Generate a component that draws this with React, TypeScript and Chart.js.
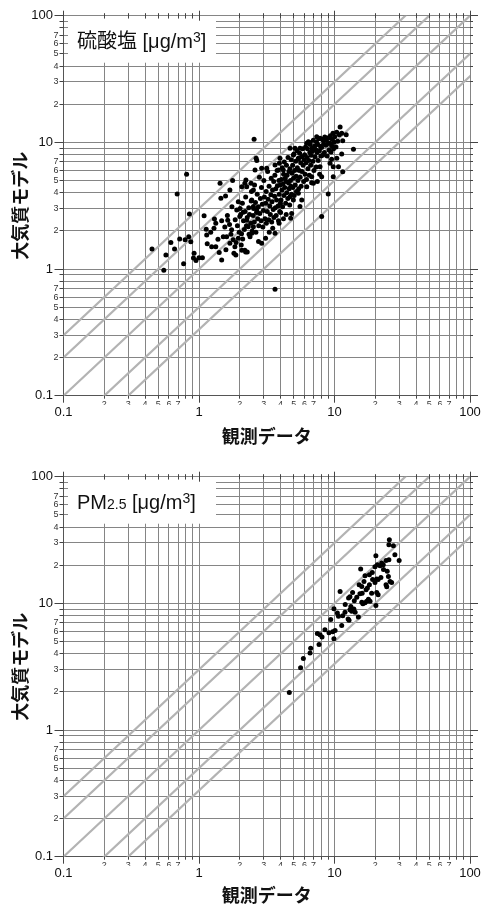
import React, { useEffect, useRef } from 'react';
import { Chart, registerables } from 'chart.js';

Chart.register(...registerables);

const LATIN = '"Liberation Sans", Arial, sans-serif';
const CJK = '"Noto Sans CJK JP", "Noto Sans CJK SC", sans-serif';

// ---------- data ----------
const AXIS_MIN = 0.1;
const AXIS_MAX = 100;
const ALL_TICKS = [
  0.1, 0.2, 0.3, 0.4, 0.5, 0.6, 0.7, 0.8, 0.9,
  1, 2, 3, 4, 5, 6, 7, 8, 9,
  10, 20, 30, 40, 50, 60, 70, 80, 90,
  100,
];
const MAJOR_TICKS = [0.1, 1, 10, 100];
const MAJOR_LABELS = ['0.1', '1', '10', '100'];
const MINOR_LABELLED = [2, 3, 4, 5, 6, 7];
const REF_RATIOS = [3, 2, 1, 0.5, 1 / 3];
const REF_X_RANGE = [0.01, 1000];
const X_TITLE = '観測データ';
const Y_TITLE = '大気質モデル';

// [observed, model] pairs
const SULFATE_POINTS: number[][] = [
  [0.45, 1.44], [0.55, 0.98], [0.57, 1.29], [0.62, 1.62], [0.66, 1.44], [0.72, 1.73], [0.79, 1.70],
  [0.84, 1.80], [0.87, 1.64], [0.77, 1.10], [0.92, 1.33], [0.91, 1.22], [0.95, 1.17], [1.0, 1.23],
  [1.06, 1.23], [0.85, 2.72], [1.09, 2.64], [0.81, 5.6], [0.69, 3.92],
  [1.14, 1.86], [1.13, 2.06], [1.15, 1.58], [1.22, 1.95], [1.24, 1.50], [1.33, 1.50], [1.30, 2.48],
  [1.33, 2.30], [1.29, 2.10], [1.38, 1.72], [1.41, 1.35], [1.47, 2.41], [1.47, 1.18], [1.51, 1.80],
  [1.55, 2.15], [1.58, 1.42], [1.60, 1.80], [1.62, 2.65], [1.45, 3.62], [1.43, 4.75], [1.57, 3.78],
  [1.63, 2.43], [1.68, 2.25], [1.69, 4.2], [1.72, 1.88], [1.75, 3.1], [1.77, 4.99], [1.74, 2.04],
  [1.79, 1.70], [1.69, 1.60], [1.84, 1.50], [1.85, 2.45], [1.88, 1.62], [1.92, 2.2], [1.95, 1.75],
  [1.95, 3.4], [1.98, 1.95], [2.0, 2.6], [2.05, 1.55], [2.10, 1.73], [1.81, 1.33], [1.87, 1.29],
  [2.07, 1.41], [2.21, 1.36], [2.27, 1.36], [2.18, 1.41], [1.90, 2.92], [2.01, 3.0], [2.12, 2.81],
  [2.18, 4.75], [2.25, 4.47], [2.07, 4.47], [2.22, 5.05], [2.42, 4.75], [2.52, 4.2], [2.45, 3.51],
  [2.25, 2.43], [2.31, 2.16], [2.52, 2.16], [2.45, 1.92], [2.67, 2.92], [2.52, 3.11], [2.38, 1.80],
  [2.55, 10.6], [2.64, 7.5], [2.67, 7.18], [2.59, 6.05], [2.90, 6.25], [3.16, 6.25],
  [2.03, 2.7], [2.06, 1.9], [2.09, 3.3], [2.13, 2.4], [2.16, 2.05], [2.19, 2.85], [2.21, 3.7],
  [2.24, 2.2], [2.27, 2.55], [2.33, 3.05], [2.34, 1.88], [2.36, 2.7], [2.41, 2.3], [2.43, 3.45],
  [2.44, 4.1], [2.47, 2.0], [2.51, 2.65], [2.53, 3.0], [2.56, 2.35], [2.57, 4.6], [2.61, 3.35],
  [2.63, 1.95], [2.66, 2.8], [2.69, 3.9], [2.71, 2.5], [2.74, 3.1], [2.76, 2.2], [2.79, 5.3],
  [2.81, 2.75], [2.84, 3.6], [2.87, 2.4], [2.89, 4.4], [2.93, 3.25], [2.96, 2.15], [2.99, 2.9],
  [3.01, 5.0], [3.04, 3.7], [3.07, 2.5], [3.11, 3.3], [3.13, 4.1], [3.14, 2.3], [3.19, 2.85],
  [3.21, 5.9], [3.24, 3.55], [3.27, 2.45], [3.29, 4.5], [3.33, 3.15], [3.36, 2.7], [3.39, 3.85],
  [3.41, 5.2], [3.44, 2.35], [3.46, 3.4], [3.49, 4.2], [3.53, 2.95], [3.56, 4.9], [3.57, 2.55],
  [3.61, 3.75], [3.63, 5.5], [3.66, 3.05], [3.69, 4.3], [3.71, 2.65], [3.74, 3.5], [3.77, 6.0],
  [3.79, 4.55], [3.83, 3.15], [3.86, 2.4], [3.89, 5.0], [3.91, 3.9], [3.94, 2.85], [3.97, 4.6],
  [3.99, 3.3],
  [3.3, 1.95], [3.9, 2.3], [4.2, 2.5], [4.4, 2.7], [3.5, 2.1], [4.0, 2.8], [3.1, 1.75], [2.75, 1.65],
  [4.03, 3.5], [4.06, 5.1], [4.09, 4.2], [4.11, 6.3], [4.14, 3.1], [4.17, 4.7], [4.21, 5.6],
  [4.23, 3.8], [4.26, 7.0], [4.29, 4.4], [4.33, 5.2], [4.36, 3.3], [4.39, 4.9], [4.42, 6.6],
  [4.44, 4.0], [4.47, 5.5], [4.52, 3.6], [4.54, 7.6], [4.57, 4.8], [4.61, 5.9], [4.63, 4.3],
  [4.67, 3.2], [4.69, 6.2], [4.73, 5.0], [4.77, 4.5], [4.79, 7.3], [4.82, 3.9], [4.86, 5.7],
  [4.91, 6.6], [4.93, 4.4], [4.98, 5.2], [5.02, 8.1], [5.04, 3.8], [5.08, 6.0], [5.13, 4.6],
  [5.17, 7.1], [5.21, 5.4], [5.24, 4.1], [5.28, 8.6], [5.32, 6.3], [5.37, 5.0], [5.42, 7.4],
  [5.44, 4.3], [5.49, 6.0], [5.53, 8.2], [5.58, 5.3], [5.63, 6.9], [5.67, 4.5], [5.72, 7.7],
  [5.77, 5.9], [5.82, 8.9], [5.87, 6.6], [5.92, 4.9], [5.97, 7.3],
  [3.64, 6.64], [3.96, 7.5], [3.92, 6.84], [3.85, 6.05], [4.19, 6.05], [4.70, 8.97], [5.11, 8.97],
  [5.56, 8.97], [4.97, 7.95], [5.41, 7.5], [5.41, 3.96], [5.73, 3.51], [4.97, 3.51], [4.70, 3.72],
  [4.83, 2.75], [4.75, 2.52], [5.56, 3.11], [3.64, 1.92], [2.90, 1.60], [3.64, 0.694],
  [6.02, 8.0], [6.07, 5.6], [6.12, 9.2], [6.17, 6.9], [6.21, 5.1], [6.27, 7.6], [6.32, 8.9],
  [6.37, 6.2], [6.42, 10.1], [6.47, 7.2], [6.52, 5.5], [6.57, 8.3], [6.62, 9.6], [6.67, 6.6],
  [6.72, 7.9], [6.78, 4.8], [6.83, 9.0], [6.88, 8.5], [6.93, 7.1], [6.98, 10.4], [7.05, 6.0],
  [7.12, 9.3], [7.18, 7.7], [7.25, 8.8], [7.32, 6.4], [7.37, 10.0], [7.44, 8.3], [7.52, 9.6],
  [7.58, 7.2], [7.63, 10.7], [7.72, 8.6], [7.77, 5.6], [7.87, 9.3], [7.93, 7.8],
  [6.24, 9.84], [6.59, 9.96], [7.39, 11.1], [6.24, 4.47], [6.79, 5.36], [6.98, 4.75], [7.47, 4.90],
  [7.82, 6.43], [8.04, 5.36], [8.99, 3.92], [8.04, 2.60],
  [8.03, 9.1], [8.12, 10.6], [8.18, 7.9], [8.33, 9.7], [8.42, 8.3], [8.48, 11.0], [8.63, 9.5],
  [8.72, 10.5], [8.83, 7.8], [8.92, 9.8], [9.03, 10.9], [9.12, 8.7], [9.22, 9.9], [9.33, 11.3],
  [9.43, 8.4], [9.53, 9.4], [9.62, 10.6], [9.74, 11.8], [9.84, 8.9], [9.93, 10.0], [10.05, 11.1],
  [10.25, 9.2], [10.38, 12.0], [10.55, 10.2], [10.85, 11.5], [11.0, 13.2], [11.3, 11.8], [11.5, 10.3],
  [12.2, 11.5], [11.3, 8.1], [10.4, 7.5], [10.7, 6.43], [11.5, 5.87], [13.8, 8.81], [9.52, 7.36],
  [9.27, 6.84], [9.79, 6.43], [9.79, 5.36], [8.26, 10.4], [7.82, 10.8],
];

const PM25_POINTS: number[][] = [
  [4.64, 1.98], [5.62, 3.1], [5.89, 3.67], [6.6, 4.06], [6.67, 4.43], [7.69, 4.73], [7.47, 5.77],
  [7.82, 5.66], [8.09, 5.43], [9.1, 5.85], [9.7, 5.96], [10.1, 6.1], [9.9, 5.25], [9.38, 7.45],
  [9.9, 9.08], [10.7, 7.9], [11.3, 6.69], [11.95, 8.5], [13.0, 11.3], [12.6, 7.53], [12.8, 7.35],
  [13.2, 9.46], [13.0, 8.9], [13.4, 8.65], [13.9, 9.04], [14.2, 8.5], [15.0, 7.81], [14.6, 11.2],
  [15.9, 10.2], [16.2, 9.95], [16.8, 10.1], [17.3, 10.4], [17.8, 10.8], [18.3, 10.4], [15.4, 11.9],
  [17.1, 12.8], [18.1, 14.0], [15.2, 14.0], [16.5, 14.9], [18.1, 16.8], [19.1, 15.4], [19.9, 14.6],
  [20.5, 15.6], [21.0, 15.4], [19.9, 19.5], [20.7, 20.2], [22.3, 20.8], [21.7, 19.8], [22.9, 20.2],
  [20.2, 23.8], [15.6, 18.7], [16.8, 16.5], [15.9, 13.6], [20.5, 12.2], [21.0, 11.7], [20.2, 9.6],
  [24.0, 21.8], [24.5, 17.9], [25.0, 16.3], [25.7, 14.9], [24.0, 14.0], [24.3, 13.5], [26.4, 14.6],
  [25.2, 22.1], [25.4, 31.8], [25.2, 29.0], [27.2, 28.5], [27.9, 24.2], [30.0, 21.8], [11.0, 12.4],
  [12.7, 11.0], [14.0, 10.5], [12.0, 9.8], [11.5, 8.0], [13.6, 12.2], [17.5, 13.2], [19.0, 17.5],
  [23.0, 18.5], [22.0, 16.0], [18.8, 12.0], [10.5, 8.4], [8.5, 6.2], [16.0, 12.0],
];

type TextPart = { text: string; family: string; size: number; rise?: number };

const SULFATE_LABEL: TextPart[] = [
  { text: '硫酸塩', family: CJK, size: 20 },
  { text: ' [μg/m', family: LATIN, size: 20 },
  { text: '3', family: LATIN, size: 14, rise: -6.6 },
  { text: ']', family: LATIN, size: 20 },
];
const PM25_LABEL: TextPart[] = [
  { text: 'PM', family: LATIN, size: 20 },
  { text: '2.5', family: LATIN, size: 14 },
  { text: ' [μg/m', family: LATIN, size: 20 },
  { text: '3', family: LATIN, size: 14, rise: -6.6 },
  { text: ']', family: LATIN, size: 20 },
];

// ---------- styling ----------
const GRID_COLOR = '#858585';
const BORDER_COLOR = '#555555';
const TICK_COLOR = '#444444';
const REF_COLOR = '#b3b3b3';

const isMajor = (v: number) => MAJOR_TICKS.some((m) => Math.abs(m - v) < 1e-9);
const minorLabel = (v: number) => {
  if (isMajor(v)) return '';
  const sig = Math.round(v / Math.pow(10, Math.floor(Math.log10(v) + 1e-9)));
  return MINOR_LABELLED.includes(sig) ? String(sig) : '';
};
const majorLabel = (v: number) => {
  const i = MAJOR_TICKS.findIndex((m) => Math.abs(m - v) < 1e-9);
  return i >= 0 ? MAJOR_LABELS[i] : '';
};
const align = (p: number) => Math.round(p - 0.5) + 0.5;

function makePlugins(parts: TextPart[]) {
  const boxPlugin = {
    id: 'legendBox',
    beforeDatasetsDraw(chart: any) {
      const { ctx, chartArea } = chart;
      const { left, top } = chartArea;
      ctx.save();
      ctx.fillStyle = '#ffffff';
      ctx.fillRect(left + 4.5, top + 3, 148, 44);
      ctx.fillStyle = '#111111';
      ctx.textBaseline = 'alphabetic';
      ctx.textAlign = 'left';
      let x = left + 13.5;
      const base = top + 32.6;
      for (const p of parts) {
        ctx.font = `${p.size}px ${p.family}`;
        ctx.fillText(p.text, x, base + (p.rise || 0));
        x += ctx.measureText(p.text).width;
      }
      ctx.restore();
    },
  };
  const tickPlugin = {
    id: 'frameTicks',
    afterDraw(chart: any) {
      const { ctx, chartArea } = chart;
      const { left, right, top, bottom } = chartArea;
      const xs = chart.scales.x;
      const ys = chart.scales.y;
      ctx.save();
      ctx.strokeStyle = TICK_COLOR;
      ctx.lineWidth = 1;
      ctx.beginPath();
      for (const v of ALL_TICKS) {
        const m = isMajor(v);
        const px = align(xs.getPixelForValue(v));
        ctx.moveTo(px, bottom);
        ctx.lineTo(px, bottom + (m ? 7 : 3));
        ctx.moveTo(px, top - (m ? 5 : 2.5));
        ctx.lineTo(px, top + (m ? 5 : 2.5));
        const py = align(ys.getPixelForValue(v));
        ctx.moveTo(left - (m ? 9 : 4), py);
        ctx.lineTo(left, py);
        ctx.moveTo(right, py);
        ctx.lineTo(right + (m ? 8 : 3), py);
      }
      ctx.stroke();
      ctx.restore();
    },
  };
  return [boxPlugin, tickPlugin];
}

function buildConfig(points: number[][], parts: TextPart[], x2Height: number, xTitlePad: number): any {
  const scatter = {
    label: 'data',
    data: points.map(([x, y]) => ({ x, y })),
    pointRadius: 2.5,
    pointHoverRadius: 2.5,
    pointBackgroundColor: '#000000',
    pointBorderWidth: 0,
    backgroundColor: '#000000',
    borderWidth: 0,
    showLine: false,
    order: 0,
  };
  const refs = REF_RATIOS.map((k) => ({
    label: `ratio ${k}`,
    data: REF_X_RANGE.map((x) => ({ x, y: k * x })),
    showLine: true,
    borderColor: REF_COLOR,
    borderWidth: 2.2,
    pointRadius: 0,
    pointHoverRadius: 0,
    fill: false,
    order: 1,
  }));
  const allTicks = (s: any) => {
    s.ticks = ALL_TICKS.map((v) => ({ value: v }));
  };
  const majorTicks = (s: any) => {
    s.ticks = MAJOR_TICKS.map((v) => ({ value: v, major: true }));
  };
  const base = { type: 'logarithmic', min: AXIS_MIN, max: AXIS_MAX };
  return {
    type: 'scatter',
    data: { datasets: [scatter, ...refs] },
    plugins: makePlugins(parts),
    options: {
      animation: false,
      responsive: false,
      maintainAspectRatio: false,
      events: [],
      layout: { padding: { left: 0, right: 11, top: 15.7, bottom: 0 } },
      plugins: { legend: { display: false }, tooltip: { enabled: false }, title: { display: false } },
      scales: {
        x: {
          ...base,
          position: 'bottom',
          weight: 0,
          afterBuildTicks: allTicks,
          afterFit: (s: any) => { s.height = 9; },
          grid: { display: true, drawOnChartArea: true, drawTicks: false, color: GRID_COLOR, lineWidth: 1 },
          border: { display: true, color: BORDER_COLOR, width: 1 },
          ticks: {
            autoSkip: false, maxRotation: 0, minRotation: 0, padding: 3,
            font: { family: LATIN, size: 9 }, color: '#333333',
            callback: (v: any) => minorLabel(Number(v)),
          },
        },
        x2: {
          ...base,
          axis: 'x',
          position: 'bottom',
          weight: 1,
          afterBuildTicks: majorTicks,
          afterFit: (s: any) => { s.height = x2Height; },
          grid: { display: false, drawTicks: false },
          border: { display: false },
          ticks: {
            autoSkip: false, maxRotation: 0, minRotation: 0, padding: 0,
            font: { family: LATIN, size: 13 }, color: '#111111',
            callback: (v: any) => majorLabel(Number(v)),
          },
          title: {
            display: true, text: X_TITLE, color: '#111111',
            font: { family: CJK, size: 18, weight: 'bold' },
            padding: { top: 0, bottom: xTitlePad },
          },
        },
        y: {
          ...base,
          position: 'left',
          weight: 0,
          afterBuildTicks: allTicks,
          afterFit: (s: any) => { s.width = 10; },
          grid: { display: true, drawOnChartArea: true, drawTicks: false, color: GRID_COLOR, lineWidth: 1 },
          border: { display: true, color: BORDER_COLOR, width: 1 },
          ticks: {
            autoSkip: false, padding: 5,
            font: { family: LATIN, size: 9 }, color: '#333333',
            callback: (v: any) => minorLabel(Number(v)),
          },
        },
        y2: {
          ...base,
          axis: 'y',
          position: 'left',
          weight: 1,
          afterBuildTicks: majorTicks,
          afterFit: (s: any) => { s.width = 53.5; },
          grid: { display: false, drawTicks: false },
          border: { display: false },
          ticks: {
            autoSkip: false, padding: 0.5,
            font: { family: LATIN, size: 13 }, color: '#111111',
            callback: (v: any) => majorLabel(Number(v)),
          },
          title: {
            display: true, text: Y_TITLE, color: '#111111',
            font: { family: CJK, size: 18, weight: 'bold' },
            padding: { top: 9.2, bottom: 0 },
          },
        },
      },
    },
  };
}

function Panel(props: { points: number[][]; parts: TextPart[]; top: number; height: number; x2Height: number; xTitlePad: number }) {
  const ref = useRef<HTMLCanvasElement>(null);
  useEffect(() => {
    if (!ref.current) return;
    const chart = new Chart(ref.current, buildConfig(props.points, props.parts, props.x2Height, props.xTitlePad));
    return () => chart.destroy();
  }, []);
  return (
    <canvas
      ref={ref}
      width={481}
      height={props.height}
      style={{ position: 'absolute', left: 0, top: props.top, width: 481, height: props.height, display: 'block' }}
    />
  );
}

export default function App() {
  return (
    <div style={{ position: 'absolute', left: 0, top: 0, width: 481, height: 906, background: '#ffffff', overflow: 'hidden' }}>
      <Panel points={SULFATE_POINTS} parts={SULFATE_LABEL} top={0} height={455} x2Height={50.3} xTitlePad={8.2} />
      <Panel points={PM25_POINTS} parts={PM25_LABEL} top={461} height={445} x2Height={40.3} xTitlePad={0.2} />
    </div>
  );
}
